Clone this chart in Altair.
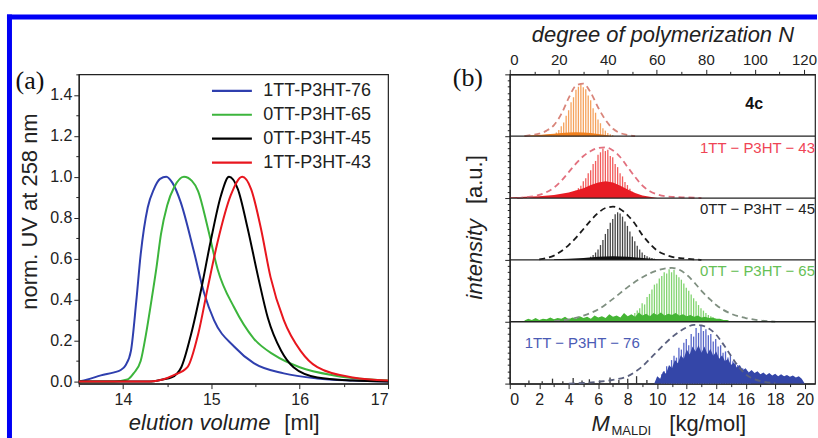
import altair as alt
import pandas as pd

FONT = "Liberation Sans"
SERIF = "Liberation Serif"

# ---------------- panel (a): GPC traces ----------------
gpc_samples = ["1TT-P3HT-76", "0TT-P3HT-65", "0TT-P3HT-45", "1TT-P3HT-43"]
gpc_colors = ["#2f3fae", "#3cb53c", "#000000", "#e8161e"]

vol_76 = [13.5, 13.6, 13.75, 13.9, 13.97, 14.03, 14.09, 14.15, 14.2, 14.28, 14.35, 14.42, 14.49,
          14.56, 14.65, 14.8, 14.92, 15.03, 15.26, 15.48, 15.82, 16.2, 16.6, 17.0]
uv_76 = [0.0, 0.01, 0.03, 0.045, 0.055, 0.08, 0.15, 0.39, 0.62, 0.85, 0.94, 0.99, 1.0,
         0.97, 0.88, 0.64, 0.43, 0.30, 0.17, 0.09, 0.04, 0.015, 0.005, 0.0]

vol_65 = [13.5, 13.9, 14.05, 14.12, 14.2, 14.26, 14.32, 14.38, 14.43, 14.5, 14.58, 14.69,
          14.78, 14.85, 14.96, 15.07, 15.26, 15.48, 15.71, 16.0, 16.39, 16.8, 17.0]
uv_65 = [0.0, 0.0, 0.01, 0.04, 0.10, 0.23, 0.39, 0.56, 0.72, 0.86, 0.95, 1.0,
         0.98, 0.93, 0.75, 0.55, 0.36, 0.21, 0.13, 0.07, 0.03, 0.01, 0.005]

vol_45 = [13.5, 14.3, 14.45, 14.55, 14.66, 14.77, 14.88, 14.99, 15.11, 15.2, 15.3, 15.41,
          15.53, 15.64, 15.79, 15.93, 16.2, 16.6, 17.0]
uv_45 = [0.0, 0.0, 0.01, 0.02, 0.07, 0.23, 0.44, 0.68, 0.91, 1.0, 0.94, 0.75,
         0.51, 0.31, 0.15, 0.07, 0.02, 0.005, 0.0]

vol_43 = [13.5, 14.3, 14.45, 14.57, 14.73, 14.85, 14.96, 15.07, 15.22, 15.35, 15.45, 15.56,
          15.67, 15.82, 16.01, 16.2, 16.6, 17.0]
uv_43 = [0.0, 0.0, 0.01, 0.03, 0.07, 0.23, 0.46, 0.68, 0.91, 1.0, 0.94, 0.75,
         0.51, 0.30, 0.15, 0.07, 0.02, 0.005]

# ---------------- panel (b): MALDI spectra ----------------
MONOMER = 0.16626  # kg/mol per repeat unit (converts N to M)

# peak heights per degree of polymerization N (fraction of a sub-panel)
n0_4c = 17
peaks_4c = [0.02, 0.03, 0.06, 0.10, 0.16, 0.22, 0.33, 0.42, 0.55, 0.63, 0.75, 0.80, 0.85, 0.79,
            0.76, 0.66, 0.58, 0.45, 0.38, 0.27, 0.21, 0.13, 0.09, 0.05, 0.03, 0.02]
n0_43 = 23
peaks_43 = [0.03, 0.05, 0.06, 0.09, 0.12, 0.16, 0.20, 0.27, 0.32, 0.40, 0.45, 0.55, 0.60, 0.70,
            0.74, 0.80, 0.76, 0.78, 0.68, 0.66, 0.55, 0.50, 0.40, 0.35, 0.26, 0.21, 0.15, 0.10,
            0.07, 0.04]
n0_45 = 32
peaks_45 = [0.03, 0.05, 0.08, 0.12, 0.17, 0.24, 0.32, 0.42, 0.50, 0.60, 0.66, 0.74, 0.77, 0.75,
            0.70, 0.62, 0.55, 0.46, 0.38, 0.30, 0.23, 0.17, 0.12, 0.08, 0.06, 0.04, 0.03, 0.02]
n0_65 = 50
peaks_65 = [0.10, 0.14, 0.18, 0.22, 0.30, 0.28, 0.40, 0.45, 0.52, 0.60, 0.62, 0.70, 0.74, 0.80,
            0.78, 0.85, 0.80, 0.84, 0.76, 0.72, 0.68, 0.62, 0.55, 0.50, 0.44, 0.38, 0.33, 0.27,
            0.22, 0.18, 0.14, 0.11, 0.09, 0.07, 0.05]
n0_76 = 62
peaks_76 = [0.15, 0.20, 0.28, 0.25, 0.38, 0.45, 0.42, 0.58, 0.55, 0.66, 0.72, 0.62, 0.80, 0.76,
            0.90, 0.82, 0.94, 0.85, 0.88, 0.78, 0.80, 0.68, 0.72, 0.60, 0.62, 0.50, 0.52, 0.42,
            0.45, 0.36, 0.34, 0.30, 0.26, 0.25, 0.22, 0.20, 0.18]

# dense (unresolved) signal underneath the peaks: M [kg/mol], height
fill_4c_m = [1.0, 1.5, 2.0, 2.5, 3.0, 3.5, 4.0, 4.5, 5.0, 5.5, 6.0, 6.5, 7.0]
fill_4c_h = [0.01, 0.015, 0.02, 0.03, 0.04, 0.05, 0.06, 0.065, 0.06, 0.05, 0.035, 0.02, 0.0]
fill_43_m = [0.0, 1.0, 2.0, 3.0, 4.0, 5.0, 5.5, 6.0, 6.5, 7.0, 7.5, 8.0, 8.5, 9.0, 9.5, 10.0]
fill_43_h = [0.01, 0.02, 0.03, 0.05, 0.09, 0.16, 0.21, 0.25, 0.27, 0.25, 0.20, 0.14, 0.08, 0.04, 0.02, 0.0]
fill_45_m = [3.0, 4.0, 5.0, 6.0, 7.0, 8.0, 9.0, 10.0, 11.0]
fill_45_h = [0.01, 0.02, 0.03, 0.05, 0.06, 0.05, 0.03, 0.01, 0.0]
fill_65_m = [1.0, 1.25, 1.5, 1.75, 2.0, 2.25, 2.5, 2.75, 3.0, 3.25, 3.5, 3.75, 4.0, 4.25, 4.5,
             4.75, 5.0, 5.25, 5.5, 5.75, 6.0, 6.25, 6.5, 6.75, 7.0, 7.25, 7.5, 7.75, 8.0, 8.25,
             8.5, 8.75, 9.0, 9.25, 9.5, 9.75, 10.0, 10.25, 10.5, 10.75, 11.0, 11.25, 11.5, 11.75,
             12.0, 12.25, 12.5, 12.75, 13.0, 13.25, 13.5, 13.75, 14.0, 14.25, 14.5, 14.75, 15.0]
fill_65_h = [0.02, 0.05, 0.03, 0.06, 0.03, 0.05, 0.04, 0.07, 0.04, 0.06,
             0.05, 0.08, 0.04, 0.07, 0.05, 0.09, 0.06, 0.08, 0.05, 0.10,
             0.07, 0.09, 0.06, 0.12, 0.08, 0.10, 0.07, 0.14, 0.09, 0.12,
             0.08, 0.15, 0.10, 0.13, 0.09, 0.14, 0.11, 0.15, 0.10, 0.13,
             0.11, 0.14, 0.10, 0.12, 0.09, 0.11, 0.08, 0.10, 0.07, 0.08,
             0.06, 0.07, 0.05, 0.05, 0.03, 0.03, 0.0]
fill_76_m = [9.8, 10.0, 10.2, 10.4, 10.6, 10.8, 11.0, 11.2, 11.4, 11.6, 11.8, 12.0, 12.2, 12.4,
             12.6, 12.8, 13.0, 13.2, 13.4, 13.6, 13.8, 14.0, 14.2, 14.4, 14.6, 14.8, 15.0, 15.2,
             15.4, 15.6, 15.8, 16.0, 16.2, 16.4, 16.6, 16.8, 17.0, 17.2, 17.4, 17.6, 17.8, 18.0,
             18.2, 18.4, 18.6, 18.8, 19.0, 19.2, 19.4, 19.6, 19.8, 20.0]
fill_76_h = [0.0, 0.12, 0.08, 0.20, 0.16, 0.30, 0.25, 0.38, 0.33, 0.46, 0.40, 0.55, 0.47, 0.60,
             0.52, 0.62, 0.50, 0.60, 0.48, 0.56, 0.45, 0.52, 0.40, 0.46, 0.36, 0.40, 0.30, 0.34,
             0.26, 0.30, 0.22, 0.25, 0.18, 0.22, 0.17, 0.20, 0.15, 0.18, 0.14, 0.17, 0.13, 0.16,
             0.12, 0.15, 0.12, 0.14, 0.11, 0.13, 0.10, 0.12, 0.08, 0.0]

# small spikes on the baseline of the 1TT-P3HT-76 spectrum
spike_76_m = [1.3, 2.2, 2.9, 3.6, 4.3, 4.9, 5.4, 6.1, 6.8, 7.4, 8.0, 8.6, 9.3]
spike_76_h = [0.05, 0.04, 0.08, 0.04, 0.09, 0.05, 0.07, 0.05, 0.10, 0.06, 0.08, 0.12, 0.06]

# GPC distributions converted to M (dashed)
gpc_4c_m = [1.0, 1.5, 2.0, 2.5, 3.0, 3.5, 4.0, 4.5, 5.0, 5.5, 6.0, 6.5, 7.0, 7.5, 8.0, 8.5]
gpc_4c_h = [0.0, 0.02, 0.04, 0.09, 0.18, 0.36, 0.62, 0.82, 0.85, 0.70, 0.46, 0.26, 0.12, 0.05, 0.02, 0.0]
gpc_43_m = [0.5, 1, 2, 3, 3.5, 4, 4.5, 5, 5.5, 6, 6.5, 7, 7.5, 8, 8.5, 9, 9.5, 10, 11, 12, 13]
gpc_43_h = [0, 0.01, 0.05, 0.17, 0.28, 0.42, 0.56, 0.68, 0.76, 0.81, 0.82, 0.77, 0.66, 0.50,
            0.34, 0.20, 0.11, 0.06, 0.02, 0.01, 0]
gpc_45_m = [2, 3, 4, 4.5, 5, 5.5, 6, 6.5, 7, 7.5, 8, 8.5, 9, 9.5, 10, 10.5, 11, 12, 13]
gpc_45_h = [0.01, 0.07, 0.24, 0.36, 0.50, 0.64, 0.76, 0.84, 0.86, 0.82, 0.72, 0.58, 0.40, 0.26,
            0.15, 0.09, 0.05, 0.02, 0]
gpc_65_m = [3, 4, 5, 6, 7, 8, 9, 10, 10.5, 11, 11.5, 12, 12.5, 13, 13.5, 14, 15, 16, 17, 18]
gpc_65_h = [0.01, 0.04, 0.10, 0.20, 0.37, 0.56, 0.72, 0.83, 0.86, 0.87, 0.84, 0.76, 0.64, 0.50,
            0.38, 0.27, 0.13, 0.06, 0.02, 0]
gpc_76_m = [4, 5, 6, 7, 8, 8.5, 9, 9.5, 10, 10.5, 11, 11.5, 12, 12.5, 13, 13.5, 14, 14.5, 15,
            15.5, 16, 16.5, 17, 18]
gpc_76_h = [0, 0.01, 0.03, 0.06, 0.12, 0.19, 0.28, 0.40, 0.52, 0.64, 0.75, 0.84, 0.91, 0.95,
            0.94, 0.89, 0.79, 0.63, 0.45, 0.28, 0.15, 0.08, 0.04, 0.01]

# sub-panel stacking (bottom to top)
stack = {"76": 0, "65": 1, "45": 2, "43": 3, "4c": 4}
separators = [1, 2, 3, 4]

keys = ["4c bars", "43 bars", "45 bars", "65 bars", "76 bars",
        "4c fill", "43 fill", "45 fill", "65 fill", "76 fill",
        "4c dash", "43 dash", "45 dash", "65 dash", "76 dash", "76 spikes"]
key_colors = ["#f5a25c", "#f25c5c", "#444444", "#82d470", "#5767c9",
              "#f0801e", "#e81c24", "#111111", "#45b535", "#3446a8",
              "#d9857a", "#e2707e", "#1a1a1a", "#7f8f80", "#5a607e", "#333333"]

# ---------------- tables ----------------
rows = []
for name, xs, ys in [(gpc_samples[0], vol_76, uv_76), (gpc_samples[1], vol_65, uv_65),
                     (gpc_samples[2], vol_45, uv_45), (gpc_samples[3], vol_43, uv_43)]:
    for i, (x, y) in enumerate(zip(xs, ys)):
        rows.append({"sample": name, "vol": x, "uv": y, "i": i})
dfa = pd.DataFrame(rows)

bar_rows = []
for s, n0, hs in [("4c", n0_4c, peaks_4c), ("43", n0_43, peaks_43), ("45", n0_45, peaks_45),
                  ("65", n0_65, peaks_65), ("76", n0_76, peaks_76)]:
    for k, h in enumerate(hs):
        bar_rows.append({"key": s + " bars", "M": (n0 + k) * MONOMER,
                         "y0": stack[s], "y1": stack[s] + h})
for m, h in zip(spike_76_m, spike_76_h):
    bar_rows.append({"key": "76 spikes", "M": m, "y0": 0, "y1": h})
dfbars = pd.DataFrame(bar_rows)

fill_rows = []
for s, ms, hs in [("4c", fill_4c_m, fill_4c_h), ("43", fill_43_m, fill_43_h),
                  ("45", fill_45_m, fill_45_h), ("65", fill_65_m, fill_65_h),
                  ("76", fill_76_m, fill_76_h)]:
    for m, h in zip(ms, hs):
        fill_rows.append({"key": s + " fill", "M": m, "y0": stack[s], "y1": stack[s] + h})
dffill = pd.DataFrame(fill_rows)

dash_rows = []
for s, ms, hs in [("4c", gpc_4c_m, gpc_4c_h), ("43", gpc_43_m, gpc_43_h),
                  ("45", gpc_45_m, gpc_45_h), ("65", gpc_65_m, gpc_65_h),
                  ("76", gpc_76_m, gpc_76_h)]:
    for i, (m, h) in enumerate(zip(ms, hs)):
        dash_rows.append({"key": s + " dash", "M": m, "y1": stack[s] + h, "i": i})
dfdash = pd.DataFrame(dash_rows)

one = pd.DataFrame({"k": [0]})

# ---------------- panel (a) ----------------
xa = alt.X("vol:Q", scale=alt.Scale(domain=[13.5, 17], nice=False, zero=False),
           axis=alt.Axis(values=[13.5, 14, 14.5, 15, 15.5, 16, 16.5, 17],
                         labelExpr="datum.value % 1 == 0 ? format(datum.value, 'd') : ''",
                         tickSize={"condition": {"test": "datum.value % 1 == 0", "value": 5}, "value": 3},
                         labelFontSize=16, labelPadding=3, title=None))
ya = alt.Y("uv:Q", scale=alt.Scale(domain=[-0.01, 1.5], nice=False, zero=False),
           axis=alt.Axis(values=[round(i * 0.1, 1) for i in range(16)],
                         labelExpr="round(datum.value*10) % 2 == 0 ? format(datum.value, '.1f') : ''",
                         tickSize={"condition": {"test": "round(datum.value*10) % 2 == 0", "value": 5}, "value": 3},
                         labelFontSize=16, labelPadding=2,
                         title="norm. UV at 258 nm", titleFontSize=22, titlePadding=8, titleY=137))

lines = alt.Chart(dfa).mark_line(strokeWidth=2, interpolate="monotone").encode(
    x=xa, y=ya,
    color=alt.Color("sample:N", scale=alt.Scale(domain=gpc_samples, range=gpc_colors),
                    legend=alt.Legend(title=None, orient="none", legendX=152, legendY=5,
                                      symbolType="M-3,0H1", symbolSize=400, symbolStrokeWidth=2.2,
                                      labelFontSize=18, labelFont=FONT, labelOffset=10,
                                      rowPadding=3, padding=0, labelColor="#222")),
    order="i:Q")

frame_top = alt.Chart(one).mark_rect(color="#0000f5").encode(
    x=alt.value(-72), x2=alt.value(740), y=alt.value(-60), y2=alt.value(-55))
frame_left = alt.Chart(one).mark_rect(color="#0000f5").encode(
    x=alt.value(-72), x2=alt.value(-67), y=alt.value(-60), y2=alt.value(365))

def label(txt, x, y, size, color="#222", font=FONT, align="center", baseline="middle",
          style="normal", weight="normal", angle=0):
    return alt.Chart(one).mark_text(font=font, fontSize=size, color=color, align=align,
                                    baseline=baseline, fontStyle=style, fontWeight=weight,
                                    angle=angle).encode(
        x=alt.value(x), y=alt.value(y), text=alt.value(txt))

panel_a = alt.layer(
    lines, frame_top, frame_left,
    label("(a)", -49, 7, 26, color="#111", font=SERIF),
    label("elution volume", 192, 350, 22, align="right", style="italic"),
    label("[ml]", 206, 350, 22, align="left"),
).properties(width=310, height=310)

# ---------------- panel (b) ----------------
xb_scale = alt.Scale(domain=[0, 20.7], nice=False, zero=False)
xb_axis = alt.Axis(values=list(range(0, 21)),
                   labelExpr="datum.value % 2 == 0 ? format(datum.value, 'd') : ''",
                   tickSize={"condition": {"test": "datum.value % 2 == 0", "value": 5}, "value": 3},
                   labelFontSize=16, labelPadding=3, title=None, orient="bottom")
yb_scale = alt.Scale(domain=[0, 5], nice=False, zero=False)
yb_axis = alt.Axis(values=[round(i * 0.1, 1) for i in range(51)], labels=False,
                   tickSize={"condition": {"test": "round(datum.value*10) % 10 == 0", "value": 5}, "value": 2.5},
                   title=None)
cb_scale = alt.Scale(domain=keys, range=key_colors)

bars = alt.Chart(dfbars).mark_rule(strokeWidth=1.3).encode(
    x=alt.X("M:Q", scale=xb_scale, axis=xb_axis),
    y=alt.Y("y0:Q", scale=yb_scale, axis=yb_axis), y2="y1:Q",
    color=alt.Color("key:N", scale=cb_scale, legend=None))
fills = alt.Chart(dffill).mark_area(opacity=1, interpolate="linear").encode(
    x=alt.X("M:Q", scale=xb_scale, axis=xb_axis),
    y=alt.Y("y1:Q", scale=yb_scale, axis=yb_axis, stack=None), y2="y0:Q",
    color=alt.Color("key:N", scale=cb_scale, legend=None))
dashes = alt.Chart(dfdash).mark_line(strokeWidth=1.8, strokeDash=[6, 4], interpolate="monotone").encode(
    x=alt.X("M:Q", scale=xb_scale, axis=xb_axis),
    y=alt.Y("y1:Q", scale=yb_scale, axis=yb_axis),
    color=alt.Color("key:N", scale=cb_scale, legend=None), order="i:Q")
seps = alt.Chart(pd.DataFrame({"s": separators})).mark_rule(color="#222", strokeWidth=1.3).encode(
    y=alt.Y("s:Q", scale=yb_scale, axis=yb_axis))

inner_b = alt.layer(
    bars, fills, dashes, seps,
    label("4c", 245, 30, 16, color="#111", weight="bold"),
    label("1TT \u2212 P3HT \u2212 43", 306, 74, 15, color="#ef4455", align="right"),
    label("0TT \u2212 P3HT \u2212 45", 306, 135, 15, color="#222", align="right"),
    label("0TT \u2212 P3HT \u2212 65", 306, 197, 15, color="#66c055", align="right"),
    label("1TT \u2212 P3HT \u2212 76", 15, 269, 15, color="#4b5bb5", align="left"),
    label("(b)", -42, 4, 26, color="#111", font=SERIF),
    label("intensity", -35, 145, 22, align="right", style="italic", angle=270),
    label("[a.u.]", -35, 130, 22, align="left", angle=270),
    label("M", 82, 358, 22, align="left", baseline="alphabetic", style="italic"),
    label("MALDI", 102, 365, 13, align="left", baseline="bottom"),
    label("[kg/mol]", 160, 358, 22, align="left", baseline="alphabetic"),
)

top_axis = alt.Chart(pd.DataFrame({"N": [0, 120]})).mark_point(opacity=0).encode(
    x=alt.X("N:Q", scale=alt.Scale(domain=[0, 20.7 / MONOMER], nice=False, zero=False),
            axis=alt.Axis(orient="top", values=list(range(0, 121, 10)),
                          labelExpr="datum.value % 20 == 0 ? format(datum.value, 'd') : ''",
                          tickSize={"condition": {"test": "datum.value % 20 == 0", "value": 5}, "value": 3},
                          labelFontSize=15, labelPadding=2,
                          title="degree of polymerization  N", titleFontSize=22,
                          titleFontStyle="italic", titlePadding=6)))

panel_b = alt.layer(inner_b, top_axis).resolve_scale(x="independent").properties(width=306, height=310)

chart = alt.hconcat(panel_a, panel_b, spacing=122, bounds="flush").resolve_scale(
    color="independent"
).properties(
    padding={"left": 6, "top": 13, "right": 0, "bottom": 0},
    background="white",
).configure_axis(
    labelFont=FONT, titleFont=FONT, labelColor="#222", titleColor="#222",
    domainColor="#222", tickColor="#222", titleFontWeight="normal",
    domainWidth=1.2, tickWidth=1, grid=False,
).configure_view(stroke="#222", strokeWidth=1.2)

chart.save("out.html", embed_options={"renderer": "svg", "actions": False})
